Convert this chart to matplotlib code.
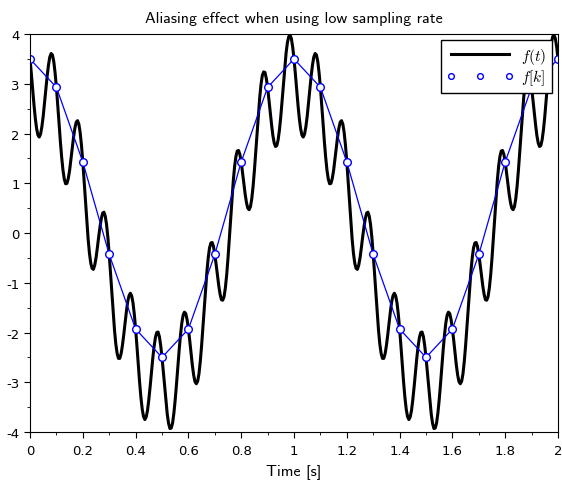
# Aliasing demo: continuous signal vs. samples taken at 10 Hz
import numpy as np
import matplotlib.pyplot as plt
from matplotlib.ticker import MultipleLocator

plt.rcParams['mathtext.fontset'] = 'cm'

# f(t) every 0.005 s over one second (the signal repeats each second)
f_period = [3.50, 3.21, 2.89, 2.58, 2.31, 2.10, 1.97, 1.93, 1.99, 2.14,
            2.35, 2.61, 2.89, 3.16, 3.38, 3.54, 3.61, 3.58, 3.45, 3.22,
            2.93, 2.58, 2.21, 1.84, 1.52, 1.26, 1.08, 0.99, 1.00, 1.10,
            1.26, 1.48, 1.71, 1.93, 2.11, 2.23, 2.26, 2.19, 2.02, 1.76,
            1.43, 1.04, 0.64, 0.25, -0.11, -0.40, -0.60, -0.71, -0.73, -0.65,
            -0.50, -0.30, -0.08, 0.12, 0.29, 0.40, 0.42, 0.34, 0.17, -0.09,
            -0.43, -0.81, -1.21, -1.60, -1.95, -2.23, -2.42, -2.52, -2.52, -2.43,
            -2.26, -2.05, -1.81, -1.58, -1.38, -1.26, -1.21, -1.26, -1.40, -1.63,
            -1.93, -2.27, -2.64, -2.99, -3.30, -3.54, -3.69, -3.75, -3.70, -3.57,
            -3.35, -3.09, -2.80, -2.52, -2.28, -2.10, -2.00, -1.99, -2.08, -2.26,
            -2.50, -2.79, -3.10, -3.39, -3.65, -3.83, -3.93, -3.92, -3.82, -3.62,
            -3.35, -3.03, -2.68, -2.35, -2.05, -1.81, -1.65, -1.59, -1.62, -1.74,
            -1.93, -2.16, -2.42, -2.66, -2.86, -2.99, -3.03, -2.98, -2.83, -2.58,
            -2.26, -1.89, -1.50, -1.12, -0.78, -0.50, -0.30, -0.20, -0.19, -0.27,
            -0.43, -0.63, -0.85, -1.06, -1.23, -1.34, -1.35, -1.28, -1.10, -0.84,
            -0.50, -0.11, 0.29, 0.69, 1.05, 1.34, 1.54, 1.65, 1.66, 1.58,
            1.43, 1.22, 1.00, 0.78, 0.61, 0.50, 0.47, 0.53, 0.69, 0.94,
            1.26, 1.63, 2.02, 2.39, 2.72, 2.99, 3.17, 3.24, 3.23, 3.11,
            2.93, 2.69, 2.43, 2.18, 1.96, 1.81, 1.74, 1.76, 1.88, 2.08,
            2.35, 2.67, 3.01, 3.33, 3.62, 3.83, 3.95, 3.98, 3.91, 3.74]
f_t = f_period + f_period + [3.50]
t = np.linspace(0, 2, len(f_t))

# samples f[k], taken every 0.1 s
f_k = [3.50, 2.93, 1.43, -0.43, -1.93, -2.50, -1.93, -0.43, 1.43, 2.93,
       3.50, 2.93, 1.43, -0.43, -1.93, -2.50, -1.93, -0.43, 1.43, 2.93, 3.50]
tk = np.linspace(0, 2, len(f_k))

fig = plt.figure(figsize=(5.62, 4.81), dpi=100)
ax = fig.add_axes([0.0534, 0.0998, 0.9395, 0.8272])

ax.plot(t, f_t, color='black', lw=2.2, label='$f(t)$')
ax.plot(tk, f_k, color='blue', lw=0.9)
ax.plot(tk, f_k, ls='none', marker='o', ms=5.5, mfc='white', mec='blue',
        mew=1.0, label='$f[k]$')

ax.set_xlim(0, 2)
ax.set_ylim(-4, 4)
ax.xaxis.set_minor_locator(MultipleLocator(0.1))
ax.yaxis.set_minor_locator(MultipleLocator(0.5))
xt = np.round(np.arange(0, 2.01, 0.2), 1)
ax.set_xticks(xt)
ax.set_xticklabels(['%g' % v for v in xt])
yt = np.arange(-4, 5)
ax.set_yticks(yt)
ax.set_yticklabels(['%d' % v for v in yt])
ax.tick_params(which='major', length=4, labelsize=9.5)
ax.tick_params(axis='x', which='major', pad=4.5)
ax.tick_params(which='minor', length=2.5)

ax.set_title('Aliasing effect when using low sampling rate', fontsize=11.5,
             fontfamily='cmss10', pad=9)
ax.set_xlabel('Time [s]', fontsize=11.5, fontfamily='cmss10', labelpad=5)

leg = ax.legend(loc='upper right', numpoints=3, fontsize=11, fancybox=False,
                framealpha=1, edgecolor='black', borderaxespad=0.4,
                handlelength=4.4, handletextpad=0.5, borderpad=0.35,
                labelspacing=0.15, markerscale=0.75)
leg.get_frame().set_linewidth(1.0)

fig.savefig('out.png', dpi=100)
